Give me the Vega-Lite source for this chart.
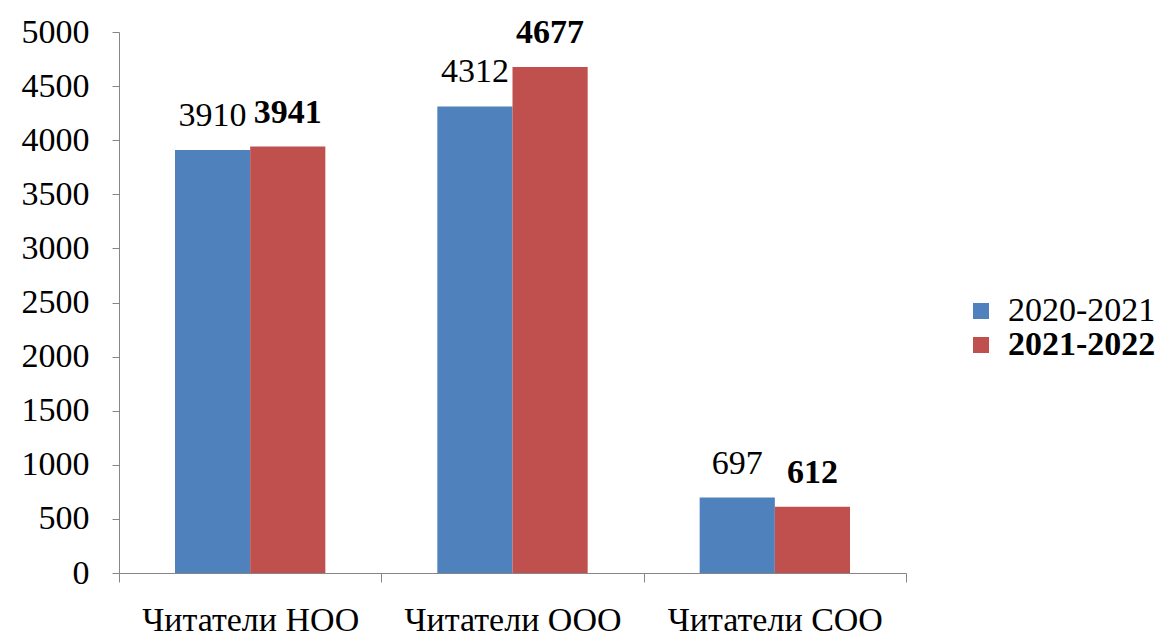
{
  "$schema": "https://vega.github.io/schema/vega-lite/v6.json",
  "autosize": "none",
  "width": 787,
  "height": 541,
  "padding": {"left": 119, "top": 32, "right": 249, "bottom": 62},
  "background": "white",
  "config": {
    "view": {"stroke": null},
    "font": "Liberation Serif"
  },
  "data": {
    "values": [
      {"category": "Читатели НОО", "year": "2020-2021", "value": 3910},
      {"category": "Читатели НОО", "year": "2021-2022", "value": 3941},
      {"category": "Читатели ООО", "year": "2020-2021", "value": 4312},
      {"category": "Читатели ООО", "year": "2021-2022", "value": 4677},
      {"category": "Читатели СОО", "year": "2020-2021", "value": 697},
      {"category": "Читатели СОО", "year": "2021-2022", "value": 612}
    ]
  },
  "encoding": {
    "x": {
      "field": "category", "type": "nominal", "sort": null,
      "scale": {"paddingInner": 0, "paddingOuter": 0},
      "axis": {
        "title": null, "labelAngle": 0, "labelFont": "Liberation Serif", "labelFontSize": 34,
        "labelColor": "black", "domainColor": "#868686", "tickColor": "#868686", "labelLimit": 0,
        "tickSize": 9, "tickBand": "extent", "labelPadding": 21, "labelBaseline": "top"
      }
    },
    "xOffset": {"field": "year", "type": "nominal", "scale": {"paddingInner": 0, "paddingOuter": 0.745}},
    "y": {
      "field": "value", "type": "quantitative",
      "scale": {"domain": [0, 5000], "nice": false},
      "axis": {
        "title": null, "values": [0, 500, 1000, 1500, 2000, 2500, 3000, 3500, 4000, 4500, 5000],
        "format": "d",
        "grid": false, "labelFont": "Liberation Serif", "labelFontSize": 34, "labelColor": "black",
        "domainColor": "#868686", "tickColor": "#868686", "tickSize": 7, "labelPadding": 23
      }
    }
  },
  "layer": [
    {
      "mark": {"type": "bar"},
      "encoding": {
        "color": {
          "field": "year", "type": "nominal",
          "scale": {"domain": ["2020-2021", "2021-2022"], "range": ["#4F81BD", "#C0504D"]},
          "legend": {
            "title": null, "orient": "none", "legendX": 845, "legendY": 262,
            "symbolType": "square", "symbolSize": 256, "symbolStrokeWidth": 0,
            "labelFont": "Liberation Serif", "labelFontSize": 34, "labelColor": "black",
            "labelOffset": 10, "rowPadding": 0,
            "encode": {"labels": {"update": {"fontWeight": {"signal": "datum.value === '2021-2022' ? 'bold' : 'normal'"}}}}
          }
        }
      }
    },
    {
      "transform": [{"filter": "datum.year === '2020-2021'"}],
      "mark": {"type": "text", "baseline": "alphabetic", "dy": -24, "fontSize": 34, "font": "Liberation Serif", "color": "black"},
      "encoding": {"text": {"field": "value", "type": "quantitative", "format": "d"}}
    },
    {
      "transform": [{"filter": "datum.year === '2021-2022'"}],
      "mark": {"type": "text", "baseline": "alphabetic", "dy": -24, "fontSize": 34, "fontWeight": "bold", "font": "Liberation Serif", "color": "black"},
      "encoding": {"text": {"field": "value", "type": "quantitative", "format": "d"}}
    }
  ]
}
